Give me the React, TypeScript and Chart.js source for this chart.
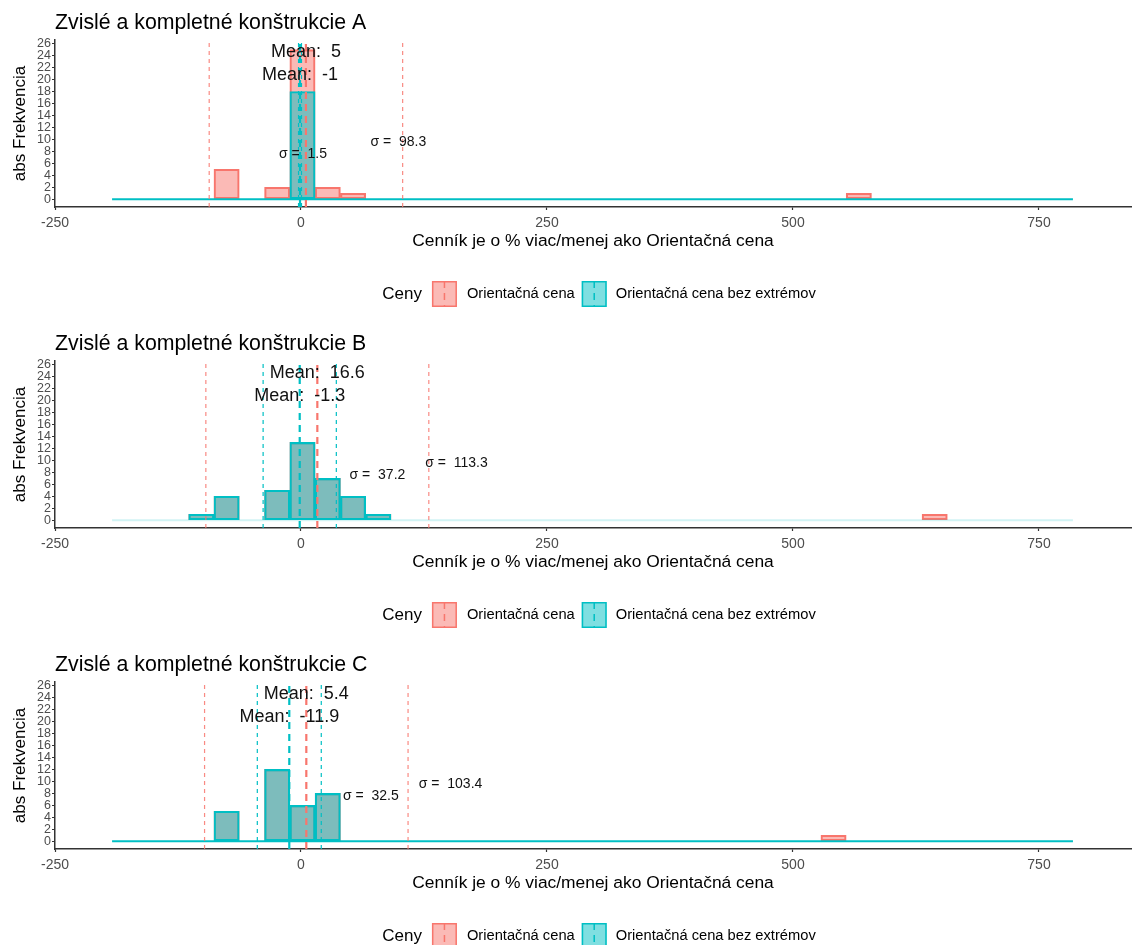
import React, { useEffect, useRef } from 'react';
import Chart from 'chart.js/auto';

// ---------- text ----------
const PANEL_TITLES = [
  'Zvislé a kompletné konštrukcie A',
  'Zvislé a kompletné konštrukcie B',
  'Zvislé a kompletné konštrukcie C',
];
const X_TITLE = 'Cenník je o % viac/menej ako Orientačná cena';
const Y_TITLE = 'abs Frekvencia';
const LEGEND_TITLE = 'Ceny';
const SERIES_NAMES = ['Orientačná cena', 'Orientačná cena bez extrémov'];

// ---------- axes ----------
const X_TICKS = [-250, 0, 250, 500, 750];
const Y_TICKS = [0, 2, 4, 6, 8, 10, 12, 14, 16, 18, 20, 22, 24, 26];
const X_RANGE = [-250, 843.5];
const Y_RANGE = [-1.3, 26.6];

// ---------- panel A ----------
const binsA = [-75.6, -24.2, 1.5, 27.2, 52.9, 566.9];
const orientA = [5, 2, 25, 2, 1, 1];
const bezA = [0, 0, 18, 0, 0, 0];
const meansA = [5, -1];
const sdsA = [98.3, 1.5];
const sigmaLabelXA = [99, 2];

// ---------- panel B ----------
const binsB = [-101.3, -75.6, -24.2, 1.5, 27.2, 52.9, 78.6, 644.0];
const orientB = [1, 4, 5, 13, 7, 4, 1, 1];
const bezB = [1, 4, 5, 13, 7, 4, 1, 0];
const meansB = [16.6, -1.3];
const sdsB = [113.3, 37.2];
const sigmaLabelXB = [158, 77.7];

// ---------- panel C ----------
const binsC = [-75.6, -24.2, 1.5, 27.2, 541.2];
const orientC = [5, 12, 6, 8, 1];
const bezC = [5, 12, 6, 8, 0];
const meansC = [5.4, -11.9];
const sdsC = [103.4, 32.5];
const sigmaLabelXC = [152, 71];

// shared annotation / baseline values
const ZERO_LINE_X = [-192, 784.5];
const MEAN_LABEL_Y = [24.6, 20.7];
const SIGMA_LABEL_Y = [9.5, 7.6];

// ---------- styles ----------
const FONT = "'Liberation Sans', Arial, Helvetica, sans-serif";
const RED = '#F8766D';
const CYAN = '#00BFC4';
const RED_FILL = 'rgba(248,118,109,0.5)';
const CYAN_FILL = 'rgba(0,191,196,0.5)';
const RED_SD = 'rgba(248,118,109,0.85)';
const PANEL_H = 321;
const W = 1132;

const PANELS = [
  { title: PANEL_TITLES[0], bins: binsA, orient: orientA, bez: bezA, means: meansA, sds: sdsA, sigmaX: sigmaLabelXA, zeroColor: CYAN, top: 0 },
  { title: PANEL_TITLES[1], bins: binsB, orient: orientB, bez: bezB, means: meansB, sds: sdsB, sigmaX: sigmaLabelXB, zeroColor: 'rgba(0,191,196,0.18)', top: 321 },
  { title: PANEL_TITLES[2], bins: binsC, orient: orientC, bez: bezC, means: meansC, sds: sdsC, sigmaX: sigmaLabelXC, zeroColor: CYAN, top: 642 },
];

function vline(x: number, color: string, width: number, dash: number[], order: number) {
  return {
    type: 'line',
    label: '',
    data: [{ x, y: Y_RANGE[0] }, { x, y: Y_RANGE[1] }],
    borderColor: color,
    borderWidth: width,
    borderDash: dash,
    pointRadius: 0,
    pointHoverRadius: 0,
    fill: false,
    tension: 0,
    order,
  };
}

function makeDecor(panel: any) {
  return {
    id: 'panelDecor',
    afterDatasetsDraw(chart: any) {
      const { ctx, scales } = chart;
      const x = scales.x;
      const y = scales.y;
      ctx.save();
      ctx.fillStyle = '#111';
      ctx.textAlign = 'center';
      ctx.textBaseline = 'middle';
      ctx.font = `18px ${FONT}`;
      ctx.fillText(`Mean:  ${panel.means[0]}`, x.getPixelForValue(panel.means[0]), y.getPixelForValue(MEAN_LABEL_Y[0]));
      ctx.fillText(`Mean:  ${panel.means[1]}`, x.getPixelForValue(panel.means[1]), y.getPixelForValue(MEAN_LABEL_Y[1]));
      ctx.font = `14px ${FONT}`;
      ctx.fillText(`σ =  ${panel.sds[0]}`, x.getPixelForValue(panel.sigmaX[0]), y.getPixelForValue(SIGMA_LABEL_Y[0]));
      ctx.fillText(`σ =  ${panel.sds[1]}`, x.getPixelForValue(panel.sigmaX[1]), y.getPixelForValue(SIGMA_LABEL_Y[1]));
      ctx.restore();
    },
    afterDraw(chart: any) {
      const { ctx, chartArea } = chart;
      ctx.save();
      // title
      ctx.fillStyle = '#000';
      ctx.textAlign = 'left';
      ctx.textBaseline = 'alphabetic';
      ctx.font = `21.3px ${FONT}`;
      ctx.fillText(panel.title, chartArea.left, 29);

      // legend
      const ly = 294;
      const keyW = 25;
      const keyH = 26;
      const labelFont = `14.7px ${FONT}`;
      ctx.font = `17px ${FONT}`;
      const wT = ctx.measureText(LEGEND_TITLE).width;
      ctx.font = labelFont;
      const w1 = ctx.measureText(SERIES_NAMES[0]).width;
      const w2 = ctx.measureText(SERIES_NAMES[1]).width;
      const total = wT + 10 + keyW + 10 + w1 + 7 + keyW + 9 + w2;
      let cx = (chartArea.left + chartArea.right) / 2 + 6 - total / 2;
      ctx.textBaseline = 'middle';
      ctx.font = `17px ${FONT}`;
      ctx.fillStyle = '#000';
      ctx.fillText(LEGEND_TITLE, cx, ly);
      cx += wT + 10;
      const drawKey = (x0: number, fill: string, stroke: string) => {
        ctx.fillStyle = fill;
        ctx.fillRect(x0, ly - keyH / 2, keyW, keyH);
        ctx.strokeStyle = stroke;
        ctx.lineWidth = 1.5;
        ctx.setLineDash([]);
        ctx.strokeRect(x0 + 0.75, ly - keyH / 2 + 0.75, keyW - 1.5, keyH - 1.5);
        ctx.beginPath();
        ctx.setLineDash([7, 5]);
        ctx.moveTo(x0 + keyW / 2, ly - keyH / 2);
        ctx.lineTo(x0 + keyW / 2, ly + keyH / 2);
        ctx.stroke();
        ctx.setLineDash([]);
      };
      drawKey(cx, RED_FILL, RED);
      cx += keyW + 10;
      ctx.font = labelFont;
      ctx.fillStyle = '#000';
      ctx.fillText(SERIES_NAMES[0], cx, ly);
      cx += w1 + 7;
      drawKey(cx, CYAN_FILL, CYAN);
      cx += keyW + 9;
      ctx.font = labelFont;
      ctx.fillStyle = '#000';
      ctx.fillText(SERIES_NAMES[1], cx, ly);
      ctx.restore();
    },
  };
}

function PanelChart({ panel }: { panel: any }) {
  const ref = useRef<HTMLCanvasElement>(null);
  useEffect(() => {
    const toPoints = (counts: number[]) =>
      panel.bins.map((c: number, i: number) => ({ x: c, y: counts[i] })).filter((d: any) => d.y > 0);
    const barCommon = {
      type: 'bar',
      grouped: false,
      barPercentage: 1,
      categoryPercentage: 1,
      borderWidth: 1.5,
      borderSkipped: false,
    };
    const datasets: any[] = [
      { ...barCommon, label: SERIES_NAMES[0], data: toPoints(panel.orient), backgroundColor: RED_FILL, borderColor: RED, order: 10 },
      {
        type: 'line', label: '', data: [{ x: ZERO_LINE_X[0], y: 0 }, { x: ZERO_LINE_X[1], y: 0 }],
        borderColor: panel.zeroColor, borderWidth: 2, pointRadius: 0, fill: false, order: 9.5,
      },
      { ...barCommon, label: SERIES_NAMES[1], data: toPoints(panel.bez), backgroundColor: CYAN_FILL, borderColor: CYAN, order: 9 },
      vline(panel.means[0] - panel.sds[0], RED_SD, 1.2, [4, 4], 4),
      vline(panel.means[0] + panel.sds[0], RED_SD, 1.2, [4, 4], 4),
      vline(panel.means[1] - panel.sds[1], CYAN, 1.2, [4, 4], 3),
      vline(panel.means[1] + panel.sds[1], CYAN, 1.2, [4, 4], 3),
      vline(panel.means[0], RED, 2.2, [7, 5], 2),
      vline(panel.means[1], CYAN, 2.2, [7, 5], 1),
    ];
    const axisCommon = {
      grid: { display: true, drawOnChartArea: false, drawTicks: true, tickLength: 3, tickColor: '#333', tickWidth: 1.2, offset: false },
      border: { display: true, color: '#333', width: 1.5 },
    };
    const chart = new Chart(ref.current as HTMLCanvasElement, {
      type: 'bar',
      data: { datasets },
      options: {
        responsive: false,
        animation: false,
        events: [],
        layout: { padding: { top: 40, bottom: 61, left: 0, right: 1 } },
        plugins: { legend: { display: false }, tooltip: { enabled: false }, title: { display: false } },
        scales: {
          x: {
            ...axisCommon,
            type: 'linear',
            min: X_RANGE[0],
            max: X_RANGE[1],
            offset: false,
            afterBuildTicks: (s: any) => { s.ticks = X_TICKS.map((v) => ({ value: v })); },
            afterFit: (s: any) => { s.height = 53; },
            ticks: {
              autoSkip: false, maxRotation: 0, padding: 5, color: '#4d4d4d',
              font: { family: FONT, size: 14 },
              callback: (v: any) => String(v),
            },
            title: { display: true, text: X_TITLE, color: '#000', font: { family: FONT, size: 17.4 }, padding: { top: 0, bottom: 8 } },
          },
          y: {
            ...axisCommon,
            type: 'linear',
            min: Y_RANGE[0],
            max: Y_RANGE[1],
            afterBuildTicks: (s: any) => { s.ticks = Y_TICKS.map((v) => ({ value: v })); },
            afterFit: (s: any) => { s.width = 55; },
            ticks: {
              autoSkip: false, padding: 1, color: '#4d4d4d',
              font: { family: FONT, size: 12.5 },
              callback: (v: any) => String(v),
            },
            title: { display: true, text: Y_TITLE, color: '#000', font: { family: FONT, size: 17 }, padding: { top: 10, bottom: 0 } },
          },
        },
      },
      plugins: [makeDecor(panel)],
    } as any);
    return () => chart.destroy();
  }, [panel]);
  return (
    <canvas
      ref={ref}
      width={W}
      height={PANEL_H}
      style={{ position: 'absolute', left: 0, top: panel.top, display: 'block' }}
    />
  );
}

export default function App() {
  return (
    <div style={{ position: 'absolute', left: 0, top: 0, width: W, height: 945, overflow: 'hidden', background: '#fff' }}>
      {PANELS.map((p, i) => (
        <PanelChart key={i} panel={p} />
      ))}
    </div>
  );
}
